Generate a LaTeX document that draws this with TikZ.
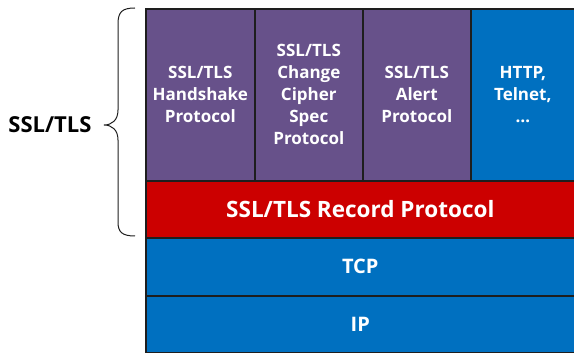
\documentclass[tikz,border=0pt]{standalone}
\usepackage{fontspec}
\setmainfont{Open Sans}
\definecolor{purp}{HTML}{67518A}
\definecolor{recred}{HTML}{CC0000}
\definecolor{netblue}{HTML}{0070C0}
\definecolor{edge}{HTML}{1E1E1E}
\tikzset{
  layer/.style={draw=edge, line width=1.6pt, text=white, font=\bfseries, align=center, inner sep=0pt, anchor=north west},
  small/.style={layer, font=\fontsize{17}{22}\selectfont\bfseries},
  big/.style={layer, font=\fontsize{20}{24}\selectfont\bfseries},
}
\begin{document}
\begin{tikzpicture}[x=1pt,y=-1pt]
\useasboundingbox (0,0) rectangle (574,353);
\node[small, fill=purp, minimum width=109pt, minimum height=172pt] (hs) at (145,8) {SSL/TLS\\Handshake\\Protocol};
\node[small, fill=purp, minimum width=108pt, minimum height=172pt] (ccs) at (254,8) {SSL/TLS\\Change\\Cipher\\Spec\\Protocol};
\node[small, fill=purp, minimum width=108pt, minimum height=172pt] (al) at (362,8) {SSL/TLS\\Alert\\Protocol};
\node[small, fill=netblue, minimum width=104pt, minimum height=172pt] (app) at (470,8) {HTTP,\\Telnet,\\…};
\node[big, fill=recred, minimum width=429pt, minimum height=57pt, font=\fontsize{22.5}{26}\selectfont\bfseries] (rec) at (145,180) {SSL/TLS Record Protocol};
\node[big, fill=netblue, minimum width=429pt, minimum height=58pt] (tcp) at (145,237) {TCP};
\node[big, fill=netblue, minimum width=429pt, minimum height=57pt] (ip) at (145,295) {IP};
\node[font=\fontsize{22}{26}\selectfont\bfseries, text=black] (lbl) at (50,125) {SSL/TLS};
\draw[line width=1pt, edge] (135,8) .. controls (122,8) and (118,12) .. (118,24)
  -- (118,110) .. controls (118,120) and (112,125) .. (104,125)
  .. controls (112,125) and (118,130) .. (118,140)
  -- (118,222) .. controls (118,232) and (122,236) .. (135,236);
\end{tikzpicture}
\end{document}
